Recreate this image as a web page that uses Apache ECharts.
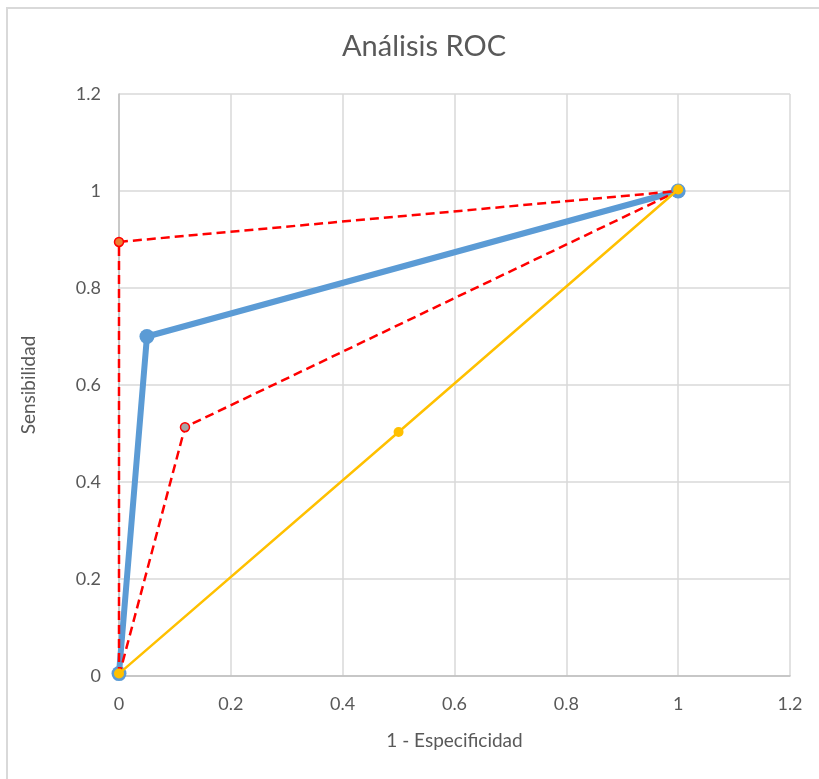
<!DOCTYPE html>
<html>
<head>
<meta charset="utf-8">
<script src="https://cdn.jsdelivr.net/npm/echarts@6/dist/echarts.min.js"></script>
<style>
	html, body { margin: 0; padding: 0; background: #fff; }
	#main { width: 819px; height: 779px; }
</style>
</head>
<body>
<div id="main"></div>
<script>
// curva ROC (modelo)
var rocX = [0, 0.05, 1];
var rocY = [0.005, 0.70, 1.0];
// curvas de referencia (rojas punteadas)
var refAX = [0, 0, 1];
var refAY = [0, 0.895, 1.0];
var refBX = [0, 0.118, 1];
var refBY = [0, 0.513, 1.0];
// diagonal
var diagX = [0, 0.5, 1];
var diagY = [0.005, 0.503, 1.003];

function pairs(xs, ys) {
	var out = [];
	for (var i = 0; i < xs.length; i++) {
		out.push([xs[i], ys[i]]);
	}
	return out;
}

// solo el punto del medio lleva marcador en las rojas
function midOnly(xs, ys, fill) {
	var pts = pairs(xs, ys);
	return pts.map(function (p, i) {
		if (i == 1) {
			return { value: p, symbolSize: 9, itemStyle: { color: fill, borderColor: '#ff0000', borderWidth: 1.5 } };
		}
		return { value: p, symbol: 'none' };
	});
}

var txt = '#595959';
var font = 'Lato, "Open Sans", sans-serif';

var myChart = echarts.init(document.getElementById('main'));
var option = {
	backgroundColor: '#fff',
	animation: false,
	graphic: [{
		type: 'rect',
		shape: { x: 7, y: 8, width: 830, height: 790 },
		style: { fill: 'none', stroke: '#d9d9d9', lineWidth: 2 },
		silent: true
	}],
	title: {
		text: 'Análisis ROC',
		left: 337,
		top: 27,
		textStyle: { color: txt, fontFamily: font, fontWeight: 'normal', fontSize: 29 }
	},
	grid: { left: 119, right: 29, top: 94, bottom: 103 },
	xAxis: {
		type: 'value',
		min: 0,
		max: 1.2,
		interval: 0.2,
		name: '1 - Especificidad',
		nameLocation: 'middle',
		nameGap: 55,
		nameTextStyle: { color: txt, fontFamily: font, fontSize: 19 },
		axisLine: { show: true, lineStyle: { color: '#bfbfbf', width: 1.5 } },
		axisTick: { show: false },
		axisLabel: {
			color: txt, fontFamily: font, fontSize: 18, margin: 19,
			formatter: function (v) { return +v.toFixed(1) + ''; }
		},
		splitLine: { show: true, lineStyle: { color: '#d9d9d9', width: 1.5 } }
	},
	yAxis: {
		type: 'value',
		min: 0,
		max: 1.2,
		interval: 0.2,
		name: 'Sensibilidad',
		nameLocation: 'middle',
		nameGap: 81,
		nameTextStyle: { color: txt, fontFamily: font, fontSize: 19 },
		axisLine: { show: true, lineStyle: { color: '#bfbfbf', width: 1.5 } },
		axisTick: { show: false },
		axisLabel: {
			color: txt, fontFamily: font, fontSize: 18, margin: 18,
			formatter: function (v) { return +v.toFixed(1) + ''; }
		},
		splitLine: { show: true, lineStyle: { color: '#d9d9d9', width: 1.5 } }
	},
	series: [{
		name: 'ROC',
		type: 'line',
		data: pairs(rocX, rocY),
		symbol: 'circle',
		symbolSize: 15,
		lineStyle: { color: '#5b9bd5', width: 6 },
		itemStyle: { color: '#5b9bd5' },
		z: 2
	}, {
		name: 'Ref A',
		type: 'line',
		data: midOnly(refAX, refAY, '#ed7d31'),
		symbol: 'circle',
		lineStyle: { color: '#ff0000', width: 2.5, type: [9, 5] },
		z: 3
	}, {
		name: 'Ref B',
		type: 'line',
		data: midOnly(refBX, refBY, '#a5a5a5'),
		symbol: 'circle',
		lineStyle: { color: '#ff0000', width: 2.5, type: [9, 5] },
		z: 3
	}, {
		name: 'Diagonal',
		type: 'line',
		data: pairs(diagX, diagY),
		symbol: 'circle',
		symbolSize: 10,
		lineStyle: { color: '#ffc000', width: 2.5 },
		itemStyle: { color: '#ffc000' },
		z: 4
	}]
};
myChart.setOption(option);
</script>
</body>
</html>
